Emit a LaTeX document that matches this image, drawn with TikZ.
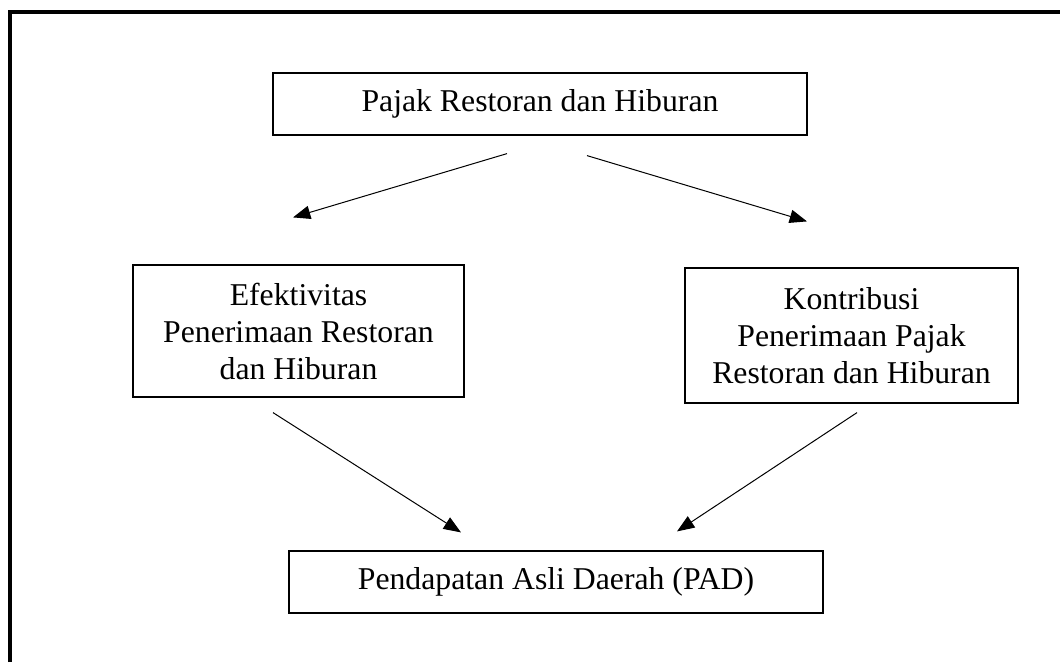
\documentclass[tikz,border=0pt]{standalone}
\usepackage{fontspec}
\setmainfont{Liberation Serif}
\usetikzlibrary{calc}
\usetikzlibrary{arrows.meta}

\tikzset{
  kotak/.style={draw,line width=0.9pt,align=center,inner sep=0pt,
    font=\fontsize{23.8}{27.75}\selectfont},
  panah/.style={line width=0.75pt,-{Triangle[length=13pt,width=10pt]}}
}

\begin{document}
\begin{tikzpicture}[x=0.75pt,y=-0.75pt]
\useasboundingbox (0,0) rectangle (1060,662);

%bingkai
\draw [line width=3pt](10,662)--(10,12)--(1060,12);

\node[kotak,minimum width=400.5pt,minimum height=46.5pt] (pajak) at (540,104) {Pajak Restoran dan Hiburan};
\node[kotak,minimum width=248.25pt,minimum height=99pt] (efektif) at (298.5,331) {Efektivitas\\Penerimaan Restoran\\dan Hiburan};
\node[kotak,minimum width=249.75pt,minimum height=101.25pt] (kontribusi) at (851.5,335.5) {Kontribusi\\Penerimaan Pajak\\Restoran dan Hiburan};
\node[kotak,minimum width=400.5pt,minimum height=46.5pt] (pad) at (556,582) {Pendapatan Asli Daerah (PAD)};

\draw [panah]($(pajak.south)+(-33,18)$)--($(efektif.north)+(-5.5,-47)$);
\draw [panah]($(pajak.south)+(47,20)$)--($(kontribusi.north)+(-44.5,-46)$);
\draw [panah]($(efektif.south)+(-25.5,15)$)--($(pad.north)+(-95,-18)$);
\draw [panah]($(kontribusi.south)+(5.5,9)$)--($(pad.north)+(121,-19)$);

\end{tikzpicture}
\end{document}
